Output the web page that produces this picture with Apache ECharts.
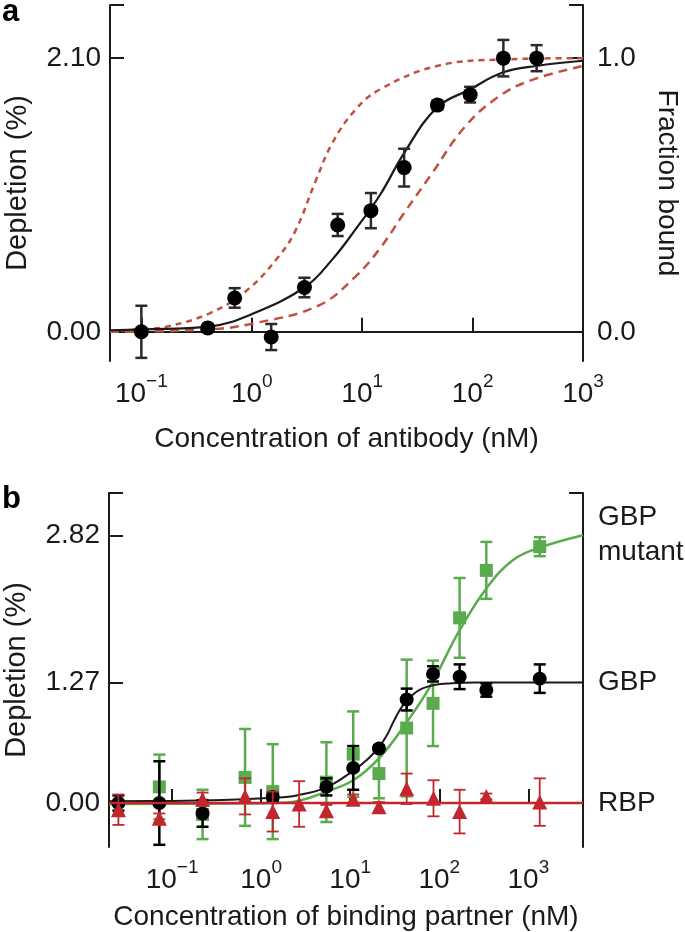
<!DOCTYPE html>
<html>
<head>
<meta charset="utf-8">
<title>Depletion binding curves</title>
<script src="https://cdn.jsdelivr.net/npm/echarts@6/dist/echarts.min.js"></script>
<style>
html, body { margin: 0; padding: 0; background: #fff; }
#chart { width: 685px; height: 932px; }
</style>
</head>
<body>
<div id="chart"></div>
<script>
'use strict';

// panel a: antibody titration (nM, depletion %)
var abConc = [0.1, 0.4, 0.7, 1.5, 3, 6, 12, 24, 48, 95, 190, 380];
var abDepl = [0.00, 0.03, 0.26, -0.04, 0.34, 0.82, 0.93, 1.26, 1.74, 1.82, 2.10, 2.10];
var abErr = [0.20, 0.02, 0.075, 0.10, 0.075, 0.085, 0.135, 0.145, 0.035, 0.06, 0.14, 0.10];

// fitted curve and the two dashed bounds
var fitConc = [0.052, 0.1, 0.41, 1.03, 3.04, 5.3, 8.6, 14.5, 23.9, 47.4, 94.5, 187, 377, 1000];
var fitDepl = [0.012, 0.018, 0.04, 0.14, 0.344, 0.55, 0.78, 1.05, 1.37, 1.72, 1.86, 1.99, 2.04, 2.08];
var loConc = [0.052, 0.1, 0.17, 0.41, 0.88, 1.76, 2.5, 3.76, 5.3, 8.6, 14.5, 47.4, 187, 1000];
var loDepl = [0.005, 0.02, 0.04, 0.14, 0.31, 0.58, 0.78, 1.15, 1.44, 1.70, 1.86, 2.04, 2.09, 2.10];
var hiConc = [0.052, 0.41, 1.03, 4.0, 8.6, 14.5, 23.9, 42.4, 84.5, 169, 337, 1000];
var hiDepl = [0.0, 0.018, 0.064, 0.20, 0.42, 0.64, 0.91, 1.21, 1.57, 1.80, 1.93, 2.04];

// panel b: binding partners
var gbpConc = [0.025, 0.072, 0.22, 1.35, 5.4, 10.8, 21, 43, 85, 169, 337, 1340];
var gbpDepl = [0.0, 0.0, -0.11, 0.064, 0.17, 0.37, 0.575, 1.09, 1.36, 1.33, 1.19, 1.31];
var gbpErr = [0.08, 0.44, 0.14, 0.04, 0.09, 0.23, 0.03, 0.115, 0.08, 0.13, 0.07, 0.15];

var mutConc = [0.072, 0.22, 0.66, 1.35, 5.4, 10.8, 21, 43, 85, 169, 337, 1340];
var mutDepl = [0.17, -0.12, 0.27, 0.12, 0.22, 0.515, 0.31, 0.79, 1.05, 1.95, 2.45, 2.70];
var mutErr = [0.34, 0.26, 0.51, 0.50, 0.42, 0.45, 0.26, 0.72, 0.45, 0.42, 0.30, 0.10];

var rbpConc = [0.025, 0.072, 0.22, 0.66, 1.35, 2.67, 5.4, 10.8, 21, 43, 86, 169, 337, 1340];
var rbpDepl = [-0.07, -0.16, 0.04, 0.07, -0.09, -0.01, -0.08, 0.04, -0.04, 0.15, 0.05, -0.09, 0.07, 0.01];
var rbpErr = [0.16, 0.05, 0.07, 0.19, 0.21, 0.24, 0.06, 0.05, 0.05, 0.16, 0.19, 0.23, 0.03, 0.25];

var gbpFitConc = [0.0196, 0.1, 0.45, 1.35, 2.5, 5.4, 10.8, 16, 21, 26, 30, 36, 43, 55, 66, 90, 131, 250, 4100];
var gbpFitDepl = [0.02, 0.022, 0.035, 0.055, 0.08, 0.165, 0.34, 0.47, 0.59, 0.72, 0.84, 0.98, 1.08, 1.17, 1.21, 1.245, 1.26, 1.27, 1.27];
var mutFitConc = [0.0196, 0.5, 1.3, 2.5, 5.4, 10.8, 21, 43, 78, 169, 337, 672, 1340, 4100];
var mutFitDepl = [-0.01, -0.005, 0.0, 0.02, 0.12, 0.24, 0.47, 0.85, 1.22, 1.82, 2.26, 2.56, 2.69, 2.82];
var rbpFitConc = [0.0196, 4100];
var rbpFitDepl = [0, 0];

// axis ticks / labels
var aTicks = [0, 2.10];
var fracTicks = [0, 1];
var bTicks = [0, 1.27, 2.82];
var bNames = ['RBP', 'GBP', 'GBP\nmutant'];

var FONT = '"Liberation Sans", Arial, Helvetica, sans-serif';
var INK = '#1a1a1a';
var GREEN = '#5aab4e';
var RED = '#c4262e';
var BROWN = '#c1513f';

var aMin = -0.224, aMax = 2.508;
var bMin = -0.463, bMax = 3.265;

function pairs(xs, ys) {
    return xs.map(function (x, i) { return [x, ys[i]]; });
}
function bars(xs, ys, es) {
    return xs.map(function (x, i) { return [x, ys[i] - es[i], ys[i] + es[i]]; });
}
function powLabel(v) {
    var n = Math.round(Math.log(v) / Math.LN10);
    return '{b|10}{s|' + (n < 0 ? '\u2212' + (-n) : n) + '}';
}

var tickStyle = { inside: true, length: 14, lineStyle: { color: INK, width: 2 } };
var lineAxis = { lineStyle: { color: INK, width: 2 } };
var nameStyle = { fontFamily: FONT, fontSize: 28, color: INK };
var yNameStyle = { fontFamily: FONT, fontSize: 29, color: INK };

function xAxisOf(grid, min, max, title, gap, showMax) {
    return {
        type: 'log', logBase: 10, gridIndex: grid, min: min, max: max,
        name: title, nameLocation: 'middle', nameGap: gap, nameTextStyle: nameStyle,
        axisLine: lineAxis,
        axisTick: tickStyle,
        axisLabel: {
            margin: 11, showMinLabel: false, showMaxLabel: showMax, formatter: powLabel,
            rich: {
                b: { fontFamily: FONT, fontSize: 28, color: INK, lineHeight: 44 },
                s: { fontFamily: FONT, fontSize: 19, color: INK, lineHeight: 16, verticalAlign: 'top' }
            }
        },
        splitLine: { show: false }
    };
}

function yAxisOf(grid, pos, min, max, ticks, fmt, extra) {
    var ax = {
        type: 'value', gridIndex: grid, position: pos, min: min, max: max,
        axisLine: { show: true, lineStyle: { color: INK, width: 2 } },
        axisTick: { inside: true, length: 14, lineStyle: { color: INK, width: 2 }, customValues: ticks.concat([max]) },
        axisLabel: { customValues: ticks, formatter: fmt, fontFamily: FONT, fontSize: 28, color: INK, margin: 9 },
        splitLine: { show: false }
    };
    for (var k in extra) ax[k] = extra[k];
    return ax;
}

function errSeries(idx, data, color, width, cap, z) {
    return {
        type: 'custom', xAxisIndex: idx.x, yAxisIndex: idx.y, z: z, silent: true,
        encode: { x: 0, y: [1, 2] },
        data: data,
        renderItem: function (params, api) {
            var x = api.value(0);
            var lo = api.coord([x, api.value(1)]);
            var hi = api.coord([x, api.value(2)]);
            var st = { stroke: color, lineWidth: width };
            return {
                type: 'group', children: [
                    { type: 'line', shape: { x1: lo[0], y1: lo[1], x2: hi[0], y2: hi[1] }, style: st },
                    { type: 'line', shape: { x1: lo[0] - cap, y1: lo[1], x2: lo[0] + cap, y2: lo[1] }, style: st },
                    { type: 'line', shape: { x1: hi[0] - cap, y1: hi[1], x2: hi[0] + cap, y2: hi[1] }, style: st }
                ]
            };
        }
    };
}
function dots(idx, data, symbol, size, color, z) {
    return {
        type: 'scatter', xAxisIndex: idx.x, yAxisIndex: idx.y, z: z, silent: true,
        symbol: symbol, symbolSize: size, itemStyle: { color: color, opacity: 1 },
        data: data
    };
}
function curve(idx, data, color, width, dash, z) {
    return {
        type: 'line', xAxisIndex: idx.x, yAxisIndex: idx.y, z: z, silent: true,
        showSymbol: false, smooth: 0.4,
        lineStyle: { color: color, width: width, type: dash || 'solid' },
        data: data
    };
}

var A = { x: 0, y: 0 }, B = { x: 1, y: 2 };

var option = {
    animation: false,
    backgroundColor: '#fff',
    grid: [
        { left: 110, right: 102, top: 5, height: 356, outerBoundsMode: 'none' },
        { left: 109, right: 102, top: 493, height: 354, outerBoundsMode: 'none' }
    ],
    xAxis: [
        xAxisOf(0, 0.052, 1000, 'Concentration of antibody (nM)', 64, true),
        xAxisOf(1, 0.0196, 4100, 'Concentration of binding partner (nM)', 56, false)
    ],
    yAxis: [
        yAxisOf(0, 'left', aMin, aMax, aTicks, function (v) { return v.toFixed(2); }, {
            name: 'Depletion (%)', nameLocation: 'middle', nameGap: 78, nameTextStyle: yNameStyle
        }),
        yAxisOf(0, 'right', aMin / aTicks[1], aMax / aTicks[1], fracTicks, function (v) { return v.toFixed(1); }, {
            name: 'Fraction bound', nameLocation: 'middle', nameGap: 70, nameRotate: -90, nameTextStyle: nameStyle
        }),
        yAxisOf(1, 'left', bMin, bMax, bTicks, function (v) { return v.toFixed(2); }, {
            name: 'Depletion (%)', nameLocation: 'middle', nameGap: 78, nameTextStyle: yNameStyle
        }),
        yAxisOf(1, 'right', bMin, bMax, [], null, {})
    ],
    graphic: [
        { type: 'text', left: 2, top: -3, style: { text: 'a', font: 'bold 31px ' + FONT, fill: '#000' } },
        { type: 'text', left: 2, top: 484, style: { text: 'b', font: 'bold 31px ' + FONT, fill: '#000' } }
    ],
    series: [
        curve(A, pairs(loConc, loDepl), BROWN, 2.5, [6, 5], 2),
        curve(A, pairs(hiConc, hiDepl), BROWN, 2.5, [9, 6], 2),
        curve(A, pairs(fitConc, fitDepl), INK, 2.2, null, 3),
        errSeries(A, bars(abConc, abDepl, abErr), '#2a2a2a', 2.5, 6, 4),
        dots(A, pairs(abConc, abDepl), 'circle', 15, '#000', 5),

        curve(B, pairs(mutFitConc, mutFitDepl), GREEN, 2.5, null, 2),
        errSeries(B, bars(mutConc, mutDepl, mutErr), GREEN, 2.5, 6, 3),
        dots(B, pairs(mutConc, mutDepl), 'rect', 13, GREEN, 3),
        curve(B, pairs(gbpFitConc, gbpFitDepl), INK, 2, null, 4),
        errSeries(B, bars(gbpConc, gbpDepl, gbpErr), '#000', 2.5, 6, 5),
        dots(B, pairs(gbpConc, gbpDepl), 'circle', 14, '#000', 5),
        curve(B, pairs(rbpFitConc, rbpFitDepl), RED, 2.5, null, 6),
        errSeries(B, bars(rbpConc, rbpDepl, rbpErr), RED, 1.8, 6, 6),
        dots(B, pairs(rbpConc, rbpDepl), 'triangle', 15, RED, 7)
    ]
};

// right-hand labels of panel b name the curves at their plateaus
option.yAxis[3].axisTick.customValues = [bMax];
option.yAxis[3].axisLabel.customValues = bTicks;
option.yAxis[3].axisLabel.margin = 15;
option.yAxis[3].axisLabel.lineHeight = 35;
option.yAxis[3].axisLabel.formatter = function (v) {
    for (var i = 0; i < bTicks.length; i++) {
        if (Math.abs(bTicks[i] - v) < 1e-6) return bNames[i];
    }
    return '';
};
option.yAxis[1].axisLabel.margin = 14;

var chart = echarts.init(document.getElementById('chart'), null, { renderer: 'canvas' });
chart.setOption(option);
</script>
</body>
</html>
